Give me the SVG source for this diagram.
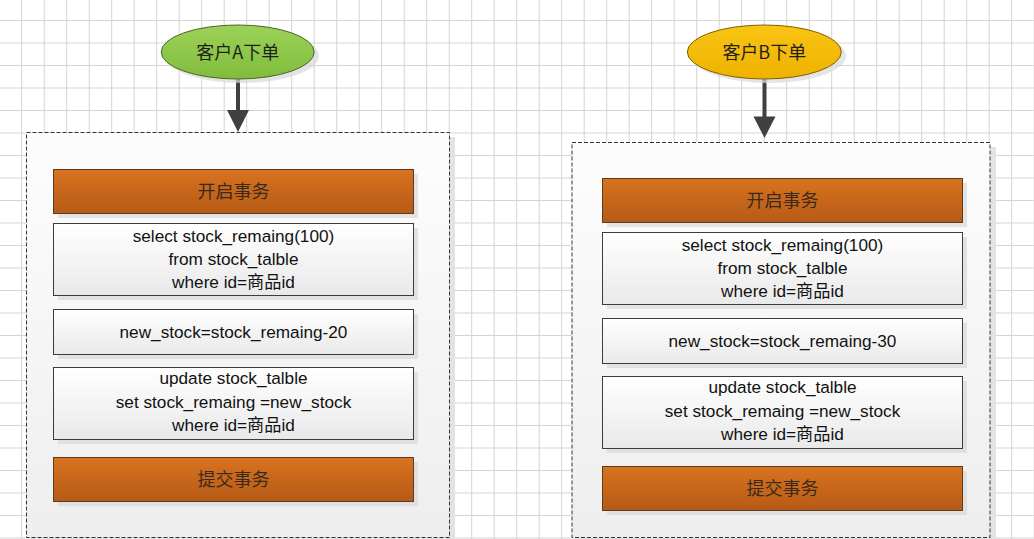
<svg xmlns="http://www.w3.org/2000/svg" width="1034" height="539" viewBox="0 0 1034 539">
<defs>
<pattern id="grid" width="22.5" height="22.5" patternUnits="userSpaceOnUse" x="21.2" y="20">
<rect width="22.5" height="22.5" fill="#ffffff"/>
<path d="M0 0.5 H22.5 M0.5 0 V22.5" stroke="#d4d4d4" stroke-width="1" fill="none"/>
</pattern>
<linearGradient id="gCont" x1="0" y1="0" x2="0" y2="1">
<stop offset="0" stop-color="#fdfdfd"/>
<stop offset="1" stop-color="#eeeeee"/>
</linearGradient>
<linearGradient id="gOrange" x1="0" y1="0" x2="0" y2="1">
<stop offset="0" stop-color="#d9731f"/>
<stop offset="1" stop-color="#b55a16"/>
</linearGradient>
<linearGradient id="gWhite" x1="0" y1="0" x2="0" y2="1">
<stop offset="0" stop-color="#ffffff"/>
<stop offset="1" stop-color="#e9e9e9"/>
</linearGradient>
<linearGradient id="gGreen" x1="0" y1="0" x2="0" y2="1">
<stop offset="0" stop-color="#9cd158"/>
<stop offset="1" stop-color="#80bd3c"/>
</linearGradient>
<linearGradient id="gGold" x1="0" y1="0" x2="0" y2="1">
<stop offset="0" stop-color="#f9c413"/>
<stop offset="1" stop-color="#efb200"/>
</linearGradient>
</defs>
<style>
.cont{fill:url(#gCont);stroke:#333333;stroke-width:1;stroke-dasharray:4 2}
.cshadow{fill:#e3e3e3}
.shadow{fill:#d8d8d8;opacity:0.7}
.orange{fill:url(#gOrange);stroke:#5a3c22;stroke-width:1}
.white{fill:url(#gWhite);stroke:#3c3c3c;stroke-width:1}
.cn{font-family:"Noto Sans CJK SC","Liberation Serif",serif;font-size:18px;fill:#3a2a1c;text-anchor:middle}
.lbl{font-family:"Noto Sans CJK SC",sans-serif;font-size:18px;fill:#1e1e1e;text-anchor:middle}
.txt{font-family:"Liberation Sans","Noto Sans CJK SC",sans-serif;font-size:17.2px;fill:#111111;text-anchor:middle}
.arr{stroke:#404040;stroke-width:4;fill:none}
.head{fill:#404040}
</style>
<rect width="1034" height="539" fill="url(#grid)"/>

<g id="containerA">
<rect class="cshadow" x="31" y="137" width="424" height="402"/>
<rect class="cont" x="26.5" y="132.5" width="423" height="405"/>
</g>
<g id="containerB">
<rect class="cshadow" x="577" y="147" width="419" height="392"/>
<rect class="cont" x="572" y="142.5" width="418" height="395"/>
</g>

<g id="connectors">
<line class="arr" x1="238" y1="79" x2="238" y2="112"/>
<polygon class="head" points="227,110 249,110 238,132"/>
<line class="arr" x1="764.5" y1="79" x2="764.5" y2="118"/>
<polygon class="head" points="753.5,116.5 775.5,116.5 764.5,138"/>
</g>

<g id="startA">
<ellipse class="shadow" cx="242" cy="56" rx="77" ry="27"/>
<ellipse cx="237.7" cy="52" rx="76.5" ry="27" fill="url(#gGreen)" stroke="#4f6228" stroke-width="1"/>
<text class="lbl" x="237.7" y="58.5">客户A下单</text>
</g>
<g id="startB">
<ellipse class="shadow" cx="769" cy="56" rx="77" ry="27"/>
<ellipse cx="764.3" cy="52" rx="77" ry="27" fill="url(#gGold)" stroke="#7f6000" stroke-width="1"/>
<text class="lbl" x="764.3" y="58.5">客户B下单</text>
</g>

<g id="a-begin">
<rect class="shadow" x="58" y="174" width="360" height="44"/>
<rect class="orange" x="53.5" y="169.5" width="360" height="44"/>
<text class="cn" x="233.5" y="197.5">开启事务</text>
</g>
<g id="a-select">
<rect class="shadow" x="58" y="228" width="360" height="72"/>
<rect class="white" x="53.5" y="223.5" width="360" height="72"/>
<text class="txt" x="233.5" y="242">select stock_remaing(100)</text>
<text class="txt" x="233.5" y="265">from stock_talble</text>
<text class="txt" x="233.5" y="288">where id=商品id</text>
</g>
<g id="a-calc">
<rect class="shadow" x="58" y="314" width="360" height="45"/>
<rect class="white" x="53.5" y="309.5" width="360" height="45"/>
<text class="txt" x="233.5" y="337.5">new_stock=stock_remaing-20</text>
</g>
<g id="a-update">
<rect class="shadow" x="58" y="372" width="360" height="72"/>
<rect class="white" x="53.5" y="367.5" width="360" height="72"/>
<text class="txt" x="233.5" y="384">update stock_talble</text>
<text class="txt" x="233.5" y="407.5">set stock_remaing =new_stock</text>
<text class="txt" x="233.5" y="431">where id=商品id</text>
</g>
<g id="a-commit">
<rect class="shadow" x="58" y="462" width="360" height="44"/>
<rect class="orange" x="53.5" y="457.5" width="360" height="44"/>
<text class="cn" x="233.5" y="485.5">提交事务</text>
</g>

<g id="b-begin">
<rect class="shadow" x="607" y="183" width="360" height="44"/>
<rect class="orange" x="602.5" y="178.5" width="360" height="44"/>
<text class="cn" x="782.5" y="206.5">开启事务</text>
</g>
<g id="b-select">
<rect class="shadow" x="607" y="237" width="360" height="72"/>
<rect class="white" x="602.5" y="232.5" width="360" height="72"/>
<text class="txt" x="782.5" y="251">select stock_remaing(100)</text>
<text class="txt" x="782.5" y="274">from stock_talble</text>
<text class="txt" x="782.5" y="297">where id=商品id</text>
</g>
<g id="b-calc">
<rect class="shadow" x="607" y="323" width="360" height="45"/>
<rect class="white" x="602.5" y="318.5" width="360" height="45"/>
<text class="txt" x="782.5" y="346.5">new_stock=stock_remaing-30</text>
</g>
<g id="b-update">
<rect class="shadow" x="607" y="381" width="360" height="72"/>
<rect class="white" x="602.5" y="376.5" width="360" height="72"/>
<text class="txt" x="782.5" y="393">update stock_talble</text>
<text class="txt" x="782.5" y="416.5">set stock_remaing =new_stock</text>
<text class="txt" x="782.5" y="440">where id=商品id</text>
</g>
<g id="b-commit">
<rect class="shadow" x="607" y="471" width="360" height="44"/>
<rect class="orange" x="602.5" y="466.5" width="360" height="44"/>
<text class="cn" x="782.5" y="494.5">提交事务</text>
</g>
</svg>
